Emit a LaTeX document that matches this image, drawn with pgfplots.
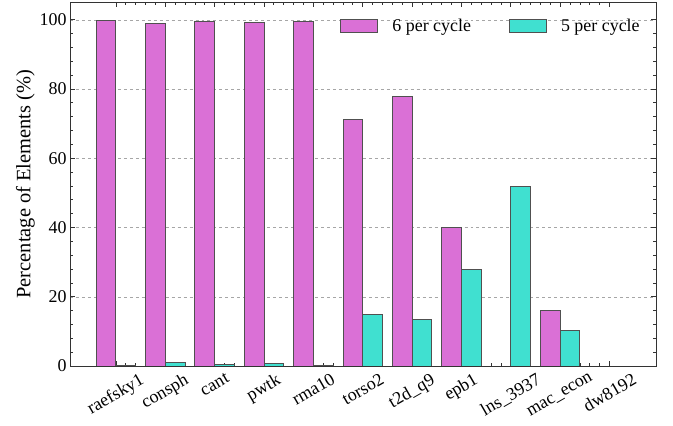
\documentclass[border=0pt]{standalone}
\usepackage{fontspec}
\setmainfont{Liberation Serif}
\usepackage{graphicx}
\usepackage{pgfplots}
\pgfplotsset{compat=1.18}
\definecolor{orchid}{HTML}{DA70D6}
\definecolor{turq}{HTML}{40E0D0}
\definecolor{edge}{HTML}{505050}
\definecolor{axcol}{HTML}{333333}

% share of elements per cycle class, one row per matrix
\pgfplotstableread{
idx six five
0 99.8 0.2
1 98.8 1.15
2 99.5 0.4
3 99.2 0.8
4 99.5 0.2
5 71.3 15.0
6 77.8 13.4
7 40.0 28.0
8 0.0 51.9
9 16.0 10.2
10 0.0 0.0
}\datatable

\pgfplotsset{
  boxlegend/.style={legend image code/.code={\draw[##1] (0bp,-6.5bp) rectangle (37bp,6.5bp);}}
}

\begin{document}
\begin{tikzpicture}
\begin{axis}[
  name=ax,
  scale only axis,
  width=586bp, height=363.5bp,
  xmin=-0.93, xmax=10.94,
  ymin=0, ymax=105,
  xtick={0,...,10},
  xticklabels={\rotatebox{30}{raefsky1},\rotatebox{30}{consph},\rotatebox{30}{cant},\rotatebox{30}{pwtk},\rotatebox{30}{rma10},\rotatebox{30}{torso2},\rotatebox{30}{t2d\_q9},\rotatebox{30}{epb1},\rotatebox{30}{lns\_3937},\rotatebox{30}{mac\_econ},\rotatebox{30}{dw8192}},
  xticklabel style={anchor=north, yshift=-3bp},
  ytick={0,20,...,100},
  minor x tick num=4,
  minor y tick num=4,
  tick align=inside,
  major tick length=5bp,
  minor tick length=3bp,
  every tick/.style={axcol, line width=0.8bp},
  axis line style={axcol, line width=1bp},
  ymajorgrids,
  grid style={dashed, gray!70, line width=0.5bp},
  ylabel={Percentage of Elements (\%)},
  ylabel style={font=\fontsize{20.5}{24}\selectfont, yshift=-2bp},
  tick label style={font=\fontsize{18}{21}\selectfont},
  /pgf/number format/assume math mode=true,
  legend columns=2,
  legend style={draw=none, fill=none, at={(0.456,0.967)}, anchor=north west,
    font=\fontsize{18}{21}\selectfont,
    /tikz/every odd column/.append style={column sep=12bp},
    /tikz/every even column/.append style={column sep=36bp}},
]
\addplot[ybar, bar width=0.4, bar shift=-0.2, fill=orchid, draw=edge, line width=1bp, boxlegend]
  table[x=idx, y=six] {\datatable};
\addlegendentry{6 per cycle}
\addplot[ybar, bar width=0.4, bar shift=0.2, fill=turq, draw=edge, line width=1bp, boxlegend]
  table[x=idx, y=five] {\datatable};
\addlegendentry{5 per cycle}
\end{axis}
\pgfresetboundingbox
\path ([shift={(-70bp,-60bp)}]ax.south west) rectangle ([shift={(17bp,2.5bp)}]ax.north east);
\end{tikzpicture}
\end{document}
